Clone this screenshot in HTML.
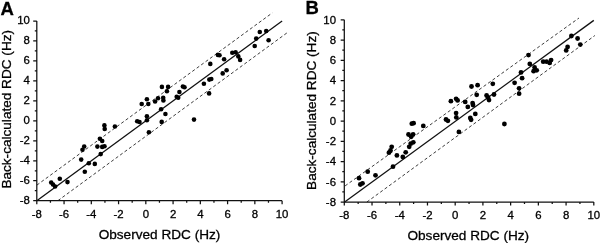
<!DOCTYPE html>
<html><head><meta charset="utf-8"><style>
html,body{margin:0;padding:0;background:#fff;}
svg{display:block;will-change:transform;}
text{font-family:"Liberation Sans",sans-serif;fill:#000;stroke:#000;stroke-width:0.3px;}
.tl{font-size:11.4px;}
.at{font-size:13.6px;}
.pl{font-size:18.5px;font-weight:bold;}
.ax{fill:none;stroke:#111;stroke-width:1.25;}
.s{stroke:#111;stroke-width:1.3;}
.d{stroke:#333;stroke-width:0.95;stroke-dasharray:3.1 2.4;}
circle{fill:#000;}
</style></head><body>
<svg width="600" height="243" viewBox="0 0 600 243">
<line x1="36.9" y1="185.1" x2="272.3" y2="12.9" class="d"/>
<line x1="58.0" y1="200.6" x2="287.2" y2="32.7" class="d"/>
<line x1="36.8" y1="200.7" x2="282.1" y2="21.0" class="s"/>
<path d="M36.80,21.00V200.70H282.10M33.20,200.70H36.80M36.80,200.70V204.30M34.80,190.72H36.80M50.43,200.70V202.70M33.20,180.73H36.80M64.06,200.70V204.30M34.80,170.75H36.80M77.68,200.70V202.70M33.20,160.77H36.80M91.31,200.70V204.30M34.80,150.78H36.80M104.94,200.70V202.70M33.20,140.80H36.80M118.57,200.70V204.30M34.80,130.82H36.80M132.19,200.70V202.70M33.20,120.83H36.80M145.82,200.70V204.30M34.80,110.85H36.80M159.45,200.70V202.70M33.20,100.87H36.80M173.08,200.70V204.30M34.80,90.88H36.80M186.71,200.70V202.70M33.20,80.90H36.80M200.33,200.70V204.30M34.80,70.92H36.80M213.96,200.70V202.70M33.20,60.93H36.80M227.59,200.70V204.30M34.80,50.95H36.80M241.22,200.70V202.70M33.20,40.97H36.80M254.84,200.70V204.30M34.80,30.98H36.80M268.47,200.70V202.70M33.20,21.00H36.80M282.10,200.70V204.30" class="ax"/>
<text x="29.80" y="204.00" text-anchor="end" class="tl">-8</text>
<text x="36.80" y="217.90" text-anchor="middle" class="tl">-8</text>
<text x="29.80" y="184.03" text-anchor="end" class="tl">-6</text>
<text x="64.06" y="217.90" text-anchor="middle" class="tl">-6</text>
<text x="29.80" y="164.07" text-anchor="end" class="tl">-4</text>
<text x="91.31" y="217.90" text-anchor="middle" class="tl">-4</text>
<text x="29.80" y="144.10" text-anchor="end" class="tl">-2</text>
<text x="118.57" y="217.90" text-anchor="middle" class="tl">-2</text>
<text x="29.80" y="124.13" text-anchor="end" class="tl">0</text>
<text x="145.82" y="217.90" text-anchor="middle" class="tl">0</text>
<text x="29.80" y="104.17" text-anchor="end" class="tl">2</text>
<text x="173.08" y="217.90" text-anchor="middle" class="tl">2</text>
<text x="29.80" y="84.20" text-anchor="end" class="tl">4</text>
<text x="200.33" y="217.90" text-anchor="middle" class="tl">4</text>
<text x="29.80" y="64.23" text-anchor="end" class="tl">6</text>
<text x="227.59" y="217.90" text-anchor="middle" class="tl">6</text>
<text x="29.80" y="44.27" text-anchor="end" class="tl">8</text>
<text x="254.84" y="217.90" text-anchor="middle" class="tl">8</text>
<text x="29.80" y="24.30" text-anchor="end" class="tl">10</text>
<text x="282.10" y="217.90" text-anchor="middle" class="tl">10</text>
<circle cx="51.2" cy="182.5" r="2.3"/>
<circle cx="53.0" cy="184.5" r="2.3"/>
<circle cx="55.1" cy="186.5" r="2.3"/>
<circle cx="59.8" cy="178.7" r="2.3"/>
<circle cx="67.5" cy="182.1" r="2.3"/>
<circle cx="81.2" cy="159.6" r="2.3"/>
<circle cx="82.5" cy="149.8" r="2.3"/>
<circle cx="84.2" cy="146.5" r="2.3"/>
<circle cx="84.8" cy="171.7" r="2.3"/>
<circle cx="88.8" cy="163.2" r="2.3"/>
<circle cx="94.8" cy="163.9" r="2.3"/>
<circle cx="97.4" cy="146.6" r="2.3"/>
<circle cx="99.9" cy="138.8" r="2.3"/>
<circle cx="102.2" cy="141.0" r="2.3"/>
<circle cx="102.2" cy="146.9" r="2.3"/>
<circle cx="104.5" cy="146.3" r="2.3"/>
<circle cx="100.7" cy="154.1" r="2.3"/>
<circle cx="104.4" cy="125.4" r="2.3"/>
<circle cx="104.7" cy="129.0" r="2.3"/>
<circle cx="114.9" cy="126.5" r="2.3"/>
<circle cx="137.2" cy="121.3" r="2.3"/>
<circle cx="139.5" cy="122.0" r="2.3"/>
<circle cx="146.9" cy="116.3" r="2.3"/>
<circle cx="146.9" cy="120.2" r="2.3"/>
<circle cx="148.9" cy="132.2" r="2.3"/>
<circle cx="141.7" cy="104.0" r="2.3"/>
<circle cx="146.9" cy="99.3" r="2.3"/>
<circle cx="148.3" cy="104.0" r="2.3"/>
<circle cx="155.1" cy="101.5" r="2.3"/>
<circle cx="158.0" cy="98.3" r="2.3"/>
<circle cx="163.2" cy="97.8" r="2.3"/>
<circle cx="163.4" cy="100.4" r="2.3"/>
<circle cx="161.1" cy="109.3" r="2.3"/>
<circle cx="161.7" cy="121.9" r="2.3"/>
<circle cx="165.4" cy="114.0" r="2.3"/>
<circle cx="161.9" cy="86.9" r="2.3"/>
<circle cx="168.1" cy="86.9" r="2.3"/>
<circle cx="166.9" cy="91.2" r="2.3"/>
<circle cx="176.7" cy="96.7" r="2.3"/>
<circle cx="178.2" cy="97.8" r="2.3"/>
<circle cx="179.4" cy="92.0" r="2.3"/>
<circle cx="182.9" cy="86.5" r="2.3"/>
<circle cx="184.5" cy="87.3" r="2.3"/>
<circle cx="194.0" cy="119.6" r="2.3"/>
<circle cx="203.9" cy="83.7" r="2.3"/>
<circle cx="209.3" cy="79.6" r="2.3"/>
<circle cx="211.3" cy="79.0" r="2.3"/>
<circle cx="209.1" cy="93.4" r="2.3"/>
<circle cx="210.3" cy="63.9" r="2.3"/>
<circle cx="217.9" cy="54.9" r="2.3"/>
<circle cx="219.5" cy="55.3" r="2.3"/>
<circle cx="224.1" cy="59.2" r="2.3"/>
<circle cx="222.7" cy="73.4" r="2.3"/>
<circle cx="226.6" cy="70.3" r="2.3"/>
<circle cx="232.3" cy="52.8" r="2.3"/>
<circle cx="235.6" cy="52.3" r="2.3"/>
<circle cx="238.3" cy="56.4" r="2.3"/>
<circle cx="240.1" cy="59.9" r="2.3"/>
<circle cx="254.7" cy="46.0" r="2.3"/>
<circle cx="256.2" cy="38.6" r="2.3"/>
<circle cx="259.8" cy="32.0" r="2.3"/>
<circle cx="266.2" cy="31.0" r="2.3"/>
<circle cx="268.6" cy="40.3" r="2.3"/>
<text x="0.4" y="14.6" class="pl">A</text>
<text x="159.50" y="239.40" text-anchor="middle" class="at">Observed RDC (Hz)</text>
<text transform="translate(11.00,109.30) rotate(-90)" x="0" y="0" text-anchor="middle" class="at">Back-calculated RDC (Hz)</text>
<line x1="345.1" y1="185.9" x2="579.0" y2="18.0" class="d"/>
<line x1="366.9" y1="202.0" x2="594.9" y2="35.5" class="d"/>
<line x1="344.3" y1="202.3" x2="593.8" y2="20.4" class="s"/>
<path d="M344.30,19.80V202.00H593.80M340.70,202.00H344.30M344.30,202.00V205.60M342.30,191.88H344.30M358.16,202.00V204.00M340.70,181.76H344.30M372.02,202.00V205.60M342.30,171.63H344.30M385.88,202.00V204.00M340.70,161.51H344.30M399.74,202.00V205.60M342.30,151.39H344.30M413.61,202.00V204.00M340.70,141.27H344.30M427.47,202.00V205.60M342.30,131.14H344.30M441.33,202.00V204.00M340.70,121.02H344.30M455.19,202.00V205.60M342.30,110.90H344.30M469.05,202.00V204.00M340.70,100.78H344.30M482.91,202.00V205.60M342.30,90.66H344.30M496.77,202.00V204.00M340.70,80.53H344.30M510.63,202.00V205.60M342.30,70.41H344.30M524.49,202.00V204.00M340.70,60.29H344.30M538.36,202.00V205.60M342.30,50.17H344.30M552.22,202.00V204.00M340.70,40.04H344.30M566.08,202.00V205.60M342.30,29.92H344.30M579.94,202.00V204.00M340.70,19.80H344.30M593.80,202.00V205.60" class="ax"/>
<text x="336.00" y="205.90" text-anchor="end" class="tl">-8</text>
<text x="344.30" y="219.20" text-anchor="middle" class="tl">-8</text>
<text x="336.00" y="185.66" text-anchor="end" class="tl">-6</text>
<text x="372.02" y="219.20" text-anchor="middle" class="tl">-6</text>
<text x="336.00" y="165.41" text-anchor="end" class="tl">-4</text>
<text x="399.74" y="219.20" text-anchor="middle" class="tl">-4</text>
<text x="336.00" y="145.17" text-anchor="end" class="tl">-2</text>
<text x="427.47" y="219.20" text-anchor="middle" class="tl">-2</text>
<text x="336.00" y="124.92" text-anchor="end" class="tl">0</text>
<text x="455.19" y="219.20" text-anchor="middle" class="tl">0</text>
<text x="336.00" y="104.68" text-anchor="end" class="tl">2</text>
<text x="482.91" y="219.20" text-anchor="middle" class="tl">2</text>
<text x="336.00" y="84.43" text-anchor="end" class="tl">4</text>
<text x="510.63" y="219.20" text-anchor="middle" class="tl">4</text>
<text x="336.00" y="64.19" text-anchor="end" class="tl">6</text>
<text x="538.36" y="219.20" text-anchor="middle" class="tl">6</text>
<text x="336.00" y="43.94" text-anchor="end" class="tl">8</text>
<text x="566.08" y="219.20" text-anchor="middle" class="tl">8</text>
<text x="336.00" y="23.70" text-anchor="end" class="tl">10</text>
<text x="593.80" y="219.20" text-anchor="middle" class="tl">10</text>
<circle cx="359.0" cy="178.2" r="2.4"/>
<circle cx="360.3" cy="184.5" r="2.4"/>
<circle cx="362.5" cy="183.3" r="2.4"/>
<circle cx="367.7" cy="171.7" r="2.4"/>
<circle cx="375.5" cy="175.3" r="2.4"/>
<circle cx="391.7" cy="146.8" r="2.4"/>
<circle cx="390.5" cy="150.5" r="2.4"/>
<circle cx="388.9" cy="152.7" r="2.4"/>
<circle cx="396.9" cy="155.4" r="2.4"/>
<circle cx="402.8" cy="157.0" r="2.4"/>
<circle cx="405.7" cy="152.3" r="2.4"/>
<circle cx="393.0" cy="166.7" r="2.4"/>
<circle cx="408.5" cy="134.5" r="2.4"/>
<circle cx="411.1" cy="136.8" r="2.4"/>
<circle cx="413.1" cy="134.3" r="2.4"/>
<circle cx="413.3" cy="142.3" r="2.4"/>
<circle cx="410.7" cy="143.7" r="2.4"/>
<circle cx="409.2" cy="146.8" r="2.4"/>
<circle cx="411.8" cy="123.7" r="2.4"/>
<circle cx="413.6" cy="123.2" r="2.4"/>
<circle cx="423.3" cy="125.9" r="2.4"/>
<circle cx="446.0" cy="119.5" r="2.4"/>
<circle cx="447.9" cy="120.8" r="2.4"/>
<circle cx="456.1" cy="113.1" r="2.4"/>
<circle cx="456.3" cy="117.4" r="2.4"/>
<circle cx="450.9" cy="101.2" r="2.4"/>
<circle cx="456.1" cy="98.8" r="2.4"/>
<circle cx="457.6" cy="100.4" r="2.4"/>
<circle cx="458.9" cy="131.9" r="2.4"/>
<circle cx="465.2" cy="101.9" r="2.4"/>
<circle cx="467.8" cy="106.9" r="2.4"/>
<circle cx="472.6" cy="103.1" r="2.4"/>
<circle cx="473.0" cy="105.0" r="2.4"/>
<circle cx="471.5" cy="86.5" r="2.4"/>
<circle cx="477.6" cy="85.2" r="2.4"/>
<circle cx="476.7" cy="94.8" r="2.4"/>
<circle cx="475.3" cy="113.9" r="2.4"/>
<circle cx="470.3" cy="118.0" r="2.4"/>
<circle cx="471.1" cy="119.8" r="2.4"/>
<circle cx="486.6" cy="95.4" r="2.4"/>
<circle cx="488.0" cy="97.4" r="2.4"/>
<circle cx="489.0" cy="100.1" r="2.4"/>
<circle cx="494.0" cy="94.5" r="2.4"/>
<circle cx="492.8" cy="83.8" r="2.4"/>
<circle cx="504.4" cy="124.0" r="2.4"/>
<circle cx="514.6" cy="82.8" r="2.4"/>
<circle cx="521.0" cy="72.4" r="2.4"/>
<circle cx="522.1" cy="78.2" r="2.4"/>
<circle cx="519.1" cy="88.3" r="2.4"/>
<circle cx="519.1" cy="93.7" r="2.4"/>
<circle cx="528.5" cy="55.1" r="2.4"/>
<circle cx="529.8" cy="63.9" r="2.4"/>
<circle cx="534.6" cy="67.5" r="2.4"/>
<circle cx="533.6" cy="71.2" r="2.4"/>
<circle cx="536.7" cy="70.3" r="2.4"/>
<circle cx="543.2" cy="61.7" r="2.4"/>
<circle cx="546.6" cy="61.7" r="2.4"/>
<circle cx="549.7" cy="62.9" r="2.4"/>
<circle cx="551.1" cy="60.1" r="2.4"/>
<circle cx="571.4" cy="36.0" r="2.4"/>
<circle cx="577.6" cy="38.5" r="2.4"/>
<circle cx="580.3" cy="44.6" r="2.4"/>
<circle cx="567.6" cy="46.9" r="2.4"/>
<circle cx="566.2" cy="50.4" r="2.4"/>
<text x="305.4" y="13.6" class="pl">B</text>
<text x="468.30" y="239.80" text-anchor="middle" class="at">Observed RDC (Hz)</text>
<text transform="translate(315.70,110.60) rotate(-90)" x="0" y="0" text-anchor="middle" class="at">Back-calculated RDC (Hz)</text>
</svg>
</body></html>
